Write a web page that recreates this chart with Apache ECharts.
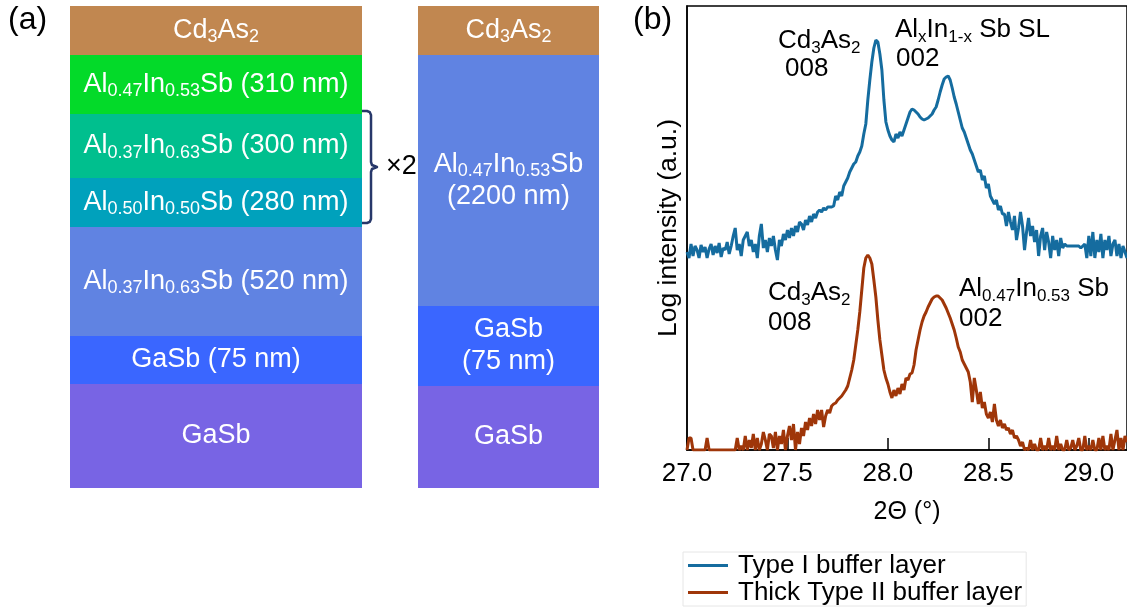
<!DOCTYPE html>
<html>
<head>
<meta charset="utf-8">
<title>Buffer layer stacks and XRD scans</title>
<script src="https://cdn.jsdelivr.net/npm/echarts@6/dist/echarts.min.js"></script>
<style>
  html, body { margin: 0; padding: 0; background: #fff; }
  #chart { width: 1127px; height: 607px; }
</style>
</head>
<body>
<div id="chart"></div>
<script>
const FONT = '"Liberation Sans", Arial, Helvetica, sans-serif';

// ---- (a) layer stacks, listed from the substrate upwards (schematic thickness units) ----
const typeILayers = [
  'GaSb',
  'GaSb (75 nm)',
  'Al_{0.37}In_{0.63}Sb (520 nm)',
  'Al_{0.50}In_{0.50}Sb (280 nm)',
  'Al_{0.37}In_{0.63}Sb (300 nm)',
  'Al_{0.47}In_{0.53}Sb (310 nm)',
  'Cd_{3}As_{2}'
];
const typeIHeights = [10.4, 4.8, 10.9, 4.9, 6.4, 5.9, 4.9];
const typeIColors = ['#7864E4', '#3A66FF', '#6083E2', '#00A1BC', '#00BF8E', '#03DA29', '#C18750'];

const typeIILayers = [
  'GaSb',
  'GaSb\n(75 nm)',
  'Al_{0.47}In_{0.53}Sb\n(2200 nm)',
  'Cd_{3}As_{2}'
];
const typeIIHeights = [10.2, 8.0, 25.1, 4.9];
const typeIIColors = ['#7864E4', '#3A66FF', '#6083E2', '#C18750'];

// superlattice period repeated twice (indices into the Type I stack)
const repeatedLayers = [3, 4];
const repeatLabel = '×2';

// ---- (b) XRD 2θ scans, log intensity (a.u.), sampled every 0.01° from 27.00° ----
const twoThetaStart = 27.0;
const twoThetaStep = 0.01;
const twoThetaMin = 27.0;
const twoThetaMax = 29.19;
const twoThetaInterval = 0.5;

const typeIScan = [
  1.98, 1.92, 2.06, 1.94, 2.04, 2.00, 1.92, 2.05, 1.98, 2.03,
  1.92, 2.01, 2.06, 1.95, 2.04, 1.97, 2.07, 1.93, 2.02, 2.00,
  2.08, 1.96, 2.04, 2.14, 2.22, 2.00, 2.06, 1.94, 2.10, 2.14,
  2.18, 2.04, 2.10, 1.98, 2.06, 1.92, 2.14, 2.26, 2.02, 2.10,
  1.98, 2.12, 2.04, 2.14, 2.00, 1.90, 2.10, 2.04, 2.16, 2.10,
  2.20, 2.12, 2.22, 2.14, 2.24, 2.18, 2.28, 2.26, 2.20, 2.30,
  2.25, 2.34, 2.28, 2.36, 2.32, 2.38, 2.40, 2.38, 2.42, 2.40,
  2.43, 2.43, 2.43, 2.44, 2.54, 2.50, 2.58, 2.54, 2.64, 2.68,
  2.72, 2.78, 2.82, 2.86, 2.88, 2.94, 2.98, 3.04, 3.16, 3.26,
  3.50, 3.70, 3.88, 4.02, 4.10, 4.08, 3.96, 3.80, 3.50, 3.28,
  3.20, 3.14, 3.10, 3.08, 3.16, 3.12, 3.18, 3.14, 3.20, 3.26,
  3.32, 3.38, 3.41, 3.40, 3.38, 3.36, 3.33, 3.31, 3.30, 3.31,
  3.32, 3.34, 3.36, 3.40, 3.43, 3.50, 3.58, 3.65, 3.71, 3.73,
  3.74, 3.70, 3.62, 3.53, 3.46, 3.38, 3.30, 3.22, 3.18, 3.12,
  3.06, 3.00, 2.96, 2.90, 2.84, 2.78, 2.80, 2.70, 2.74, 2.62,
  2.66, 2.54, 2.50, 2.46, 2.50, 2.40, 2.44, 2.36, 2.36, 2.24,
  2.38, 2.28, 2.20, 2.34, 2.10, 2.22, 2.38, 2.24, 2.00, 2.18,
  2.32, 2.14, 2.24, 2.08, 2.20, 1.94, 2.14, 2.22, 2.00, 2.18,
  2.08, 1.92, 2.14, 2.00, 2.10, 1.94, 2.12, 2.02, 2.06, 2.04,
  2.04, 2.04, 2.04, 2.04, 2.04, 2.04, 2.02, 2.04, 2.06, 1.92,
  2.14, 1.94, 2.18, 1.92, 2.10, 1.98, 2.16, 1.92, 2.10, 2.00,
  2.14, 1.94, 2.06, 2.10, 1.94, 2.06, 1.92, 2.04, 1.98, 1.92
];

const typeIIScan = [
  0.00, 0.12, 0.12, 0.00, 0.00, 0.00, 0.00, 0.00, 0.00, 0.00,
  0.12, 0.00, 0.00, 0.00, 0.00, 0.00, 0.00, 0.00, 0.00, 0.00,
  0.00, 0.00, 0.00, 0.00, 0.00, 0.12, 0.00, 0.04, 0.00, 0.14,
  0.00, 0.10, 0.02, 0.16, 0.00, 0.12, 0.00, 0.06, 0.18, 0.10,
  0.00, 0.16, 0.14, 0.02, 0.18, 0.00, 0.14, 0.06, 0.20, 0.00,
  0.14, 0.24, 0.10, 0.26, 0.00, 0.18, 0.06, 0.22, 0.14, 0.28,
  0.20, 0.32, 0.24, 0.36, 0.26, 0.40, 0.30, 0.40, 0.23, 0.34,
  0.40, 0.37, 0.44, 0.46, 0.47, 0.50, 0.52, 0.54, 0.57, 0.60,
  0.64, 0.72, 0.80, 0.90, 1.05, 1.20, 1.38, 1.60, 1.82, 1.92,
  1.95, 1.92, 1.86, 1.70, 1.53, 1.30, 1.10, 0.95, 0.80, 0.72,
  0.66, 0.58, 0.52, 0.60, 0.54, 0.62, 0.56, 0.66, 0.60, 0.72,
  0.70, 0.76, 0.77, 0.85, 1.00, 1.10, 1.20, 1.28, 1.34, 1.38,
  1.43, 1.47, 1.51, 1.53, 1.54, 1.54, 1.52, 1.50, 1.46, 1.42,
  1.37, 1.32, 1.26, 1.20, 1.12, 1.03, 0.98, 0.90, 0.86, 0.82,
  0.78, 0.68, 0.48, 0.72, 0.60, 0.46, 0.58, 0.42, 0.48, 0.36,
  0.32, 0.38, 0.28, 0.46, 0.30, 0.24, 0.30, 0.22, 0.26, 0.20,
  0.22, 0.16, 0.20, 0.12, 0.14, 0.10, 0.04, 0.08, 0.00, 0.02,
  0.00, 0.10, 0.00, 0.06, 0.00, 0.00, 0.12, 0.00, 0.04, 0.00,
  0.12, 0.00, 0.04, 0.00, 0.14, 0.00, 0.06, 0.00, 0.00, 0.10,
  0.00, 0.02, 0.10, 0.00, 0.04, 0.12, 0.00, 0.00, 0.14, 0.00,
  0.04, 0.00, 0.10, 0.00, 0.00, 0.12, 0.00, 0.14, 0.00, 0.04,
  0.00, 0.16, 0.00, 0.10, 0.20, 0.00, 0.12, 0.00, 0.14, 0.08
];

const seriesNames = ['Type I buffer layer', 'Thick Type II buffer layer'];
const seriesColors = ['#156C9F', '#9F3609'];

// reflection labels: [text, left x, baseline y]
const peakNotes = [
  ['Cd_{3}As_{2}', 778, 50],
  ['008', 785, 78],
  ['Al_{x}In_{1-x} Sb SL', 895, 39],
  ['002', 896, 68],
  ['Cd_{3}As_{2}', 768, 302],
  ['008', 768, 332],
  ['Al_{0.47}In_{0.53} Sb', 959, 298],
  ['002', 959, 328]
];

// "_{...}" marks a subscript; turn it into rich-text markup
function toRich(text, main, sub) {
  return text.split('\n').map(function (line) {
    const parts = line.split(/_\{([^}]*)\}/);
    return parts.map(function (p, k) {
      return p === '' ? '' : '{' + (k % 2 ? sub : main) + '|' + p + '}';
    }).join('');
  }).join('\n');
}

const layerRich = {
  t: { color: '#fff', fontSize: 27, lineHeight: 32, fontFamily: FONT },
  s: { color: '#fff', fontSize: 18, lineHeight: 13, verticalAlign: 'bottom', fontFamily: FONT }
};

function stackSeries(layers, heights, colors, idx) {
  return layers.map(function (text, k) {
    const rich = toRich(text, 't', 's');
    return {
      type: 'bar',
      name: 'stack' + idx + '-' + k,
      xAxisIndex: idx,
      yAxisIndex: idx,
      stack: 'stack' + idx,
      barWidth: '100%',
      silent: true,
      data: [heights[k]],
      itemStyle: { color: colors[k] },
      label: {
        show: true,
        position: 'inside',
        formatter: function () { return rich; },
        rich: layerRich
      }
    };
  });
}

function scanSeries(scan, k) {
  return {
    type: 'line',
    name: seriesNames[k],
    xAxisIndex: 2,
    yAxisIndex: 2,
    showSymbol: false,
    symbol: 'none',
    silent: true,
    data: scan.map(function (v, i) {
      return [Number((twoThetaStart + i * twoThetaStep).toFixed(2)), v];
    }),
    lineStyle: { color: seriesColors[k], width: 3 },
    itemStyle: { color: seriesColors[k] },
    z: 3 + k
  };
}

const sumI = typeIHeights.reduce(function (a, b) { return a + b; }, 0);
const sumII = typeIIHeights.reduce(function (a, b) { return a + b; }, 0);

const stackAxis = function (idx, max) {
  return { gridIndex: idx, type: 'value', min: 0, max: max, show: false };
};

const chart = echarts.init(document.getElementById('chart'), null, { renderer: 'canvas' });

chart.setOption({
  animation: false,
  backgroundColor: '#fff',
  grid: [
    { left: 70, top: 6, width: 292, height: 482 },
    { left: 418, top: 6, width: 181, height: 482 },
    { left: 687, top: 6, right: -2, bottom: 157, show: true, borderColor: '#000', borderWidth: 1.5 }
  ],
  xAxis: [
    { gridIndex: 0, type: 'category', data: ['Type I'], show: false },
    { gridIndex: 1, type: 'category', data: ['Type II'], show: false },
    {
      gridIndex: 2, type: 'value',
      min: twoThetaMin, max: twoThetaMax, interval: twoThetaInterval,
      axisLine: { show: true, lineStyle: { color: '#000', width: 1.5 } },
      axisTick: { show: true, inside: true, length: 12, lineStyle: { color: '#000', width: 1.5 } },
      axisLabel: {
        color: '#000', fontSize: 26, fontFamily: FONT, margin: 11, showMaxLabel: false,
        formatter: function (v) { return v.toFixed(1); }
      },
      splitLine: { show: false },
      name: '2Θ (°)', nameLocation: 'middle', nameGap: 50,
      nameTextStyle: { color: '#000', fontSize: 25, fontFamily: FONT }
    }
  ],
  yAxis: [
    stackAxis(0, sumI),
    stackAxis(1, sumII),
    {
      gridIndex: 2, type: 'value', min: 0, max: 4.44,
      axisLine: { show: true, lineStyle: { color: '#000', width: 1.5 } },
      axisTick: { show: false },
      axisLabel: { show: false },
      splitLine: { show: false },
      name: 'Log intensity (a.u.)', nameLocation: 'middle', nameRotate: 90, nameGap: 5,
      nameTextStyle: { color: '#000', fontSize: 26.5, fontFamily: FONT }
    }
  ],
  legend: {
    data: seriesNames,
    orient: 'vertical',
    left: 683, top: 552,
    icon: 'rect', itemWidth: 40, itemHeight: 3, itemGap: 0,
    padding: [0, 4, 0, 5],
    borderColor: '#e6e6e6', borderWidth: 1,
    backgroundColor: '#fff',
    selectedMode: false,
    textStyle: { color: '#000', fontSize: 26, fontFamily: FONT, lineHeight: 27, padding: [0, 0, 0, 5] }
  },
  series: []
    .concat(stackSeries(typeILayers, typeIHeights, typeIColors, 0))
    .concat(stackSeries(typeIILayers, typeIIHeights, typeIIColors, 1))
    .concat([scanSeries(typeIScan, 0), scanSeries(typeIIScan, 1)])
});

// ---- overlays: panel tags, the ×2 brace and the reflection labels ----
const noteRich = {
  m: { fill: '#000', fontSize: 26, lineHeight: 32, fontFamily: FONT },
  u: { fill: '#000', fontSize: 17, lineHeight: 14, verticalAlign: 'bottom', fontFamily: FONT }
};

const graphics = [];

[['(a)', 8], ['(b)', 633]].forEach(function (tag) {
  graphics.push({
    type: 'text', x: tag[1], y: 20, silent: true,
    style: { text: tag[0], fill: '#000', fontSize: 32, fontFamily: FONT, verticalAlign: 'middle', align: 'left' }
  });
});

peakNotes.forEach(function (n) {
  graphics.push({
    type: 'text', x: n[1], y: n[2] - 25, silent: true,
    style: { text: toRich(n[0], 'm', 'u'), rich: noteRich, verticalAlign: 'top', align: 'left' }
  });
});

// brace spanning the repeated period, located from the stack's own axis
let below = 0;
for (let k = 0; k < repeatedLayers[0]; k++) below += typeIHeights[k];
let above = below;
repeatedLayers.forEach(function (k) { above += typeIHeights[k]; });
const yTop = chart.convertToPixel({ yAxisIndex: 0 }, above) - 3;
const yBot = chart.convertToPixel({ yAxisIndex: 0 }, below) - 4;
const x0 = 362, xv = 371, yMid = (yTop + yBot) / 2;
graphics.push({
  type: 'polyline', silent: true,
  shape: {
    points: [
      [x0, yTop], [xv - 4, yTop], [xv - 1.2, yTop + 1.2], [xv, yTop + 4],
      [xv, yMid - 5], [xv + 1, yMid - 2], [xv + 6, yMid], [xv + 1, yMid + 2], [xv, yMid + 5],
      [xv, yBot - 4], [xv - 1.2, yBot - 1.2], [xv - 4, yBot], [x0, yBot]
    ]
  },
  style: { fill: null, stroke: '#27386A', lineWidth: 2.5, lineJoin: 'round' }
});
graphics.push({
  type: 'text', x: 386, y: yMid, silent: true,
  style: { text: repeatLabel, fill: '#000', fontSize: 27, fontFamily: FONT, verticalAlign: 'middle', align: 'left' }
});

chart.setOption({ graphic: graphics });
</script>
</body>
</html>
